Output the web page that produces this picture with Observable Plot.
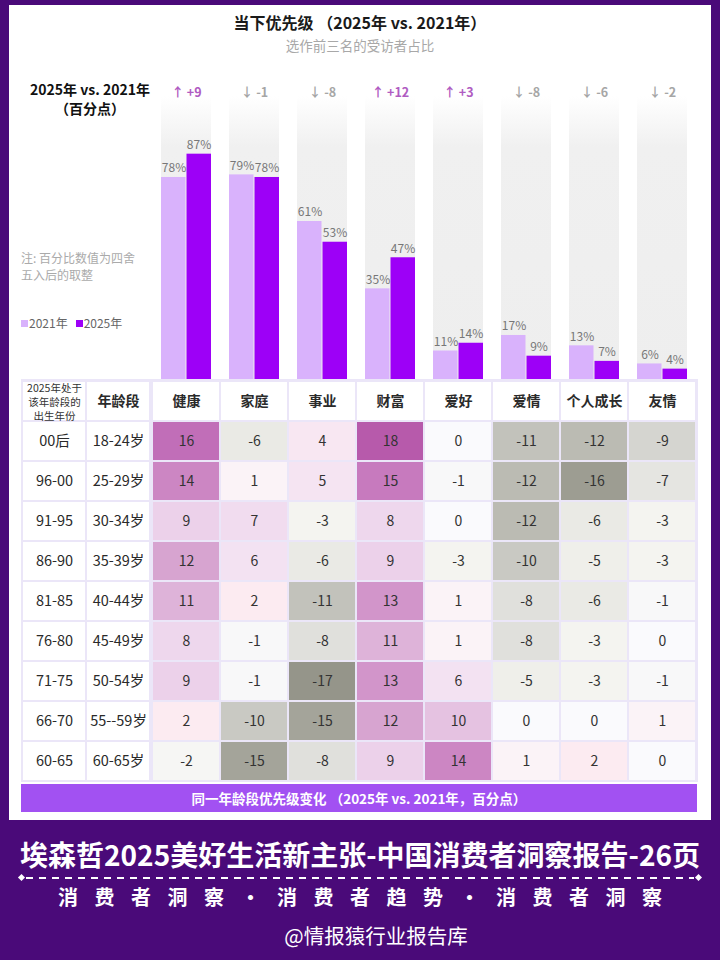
<!DOCTYPE html>
<html lang="zh-CN">
<head>
<meta charset="utf-8">
<script src="https://cdn.jsdelivr.net/npm/d3@7"></script>
<script src="https://cdn.jsdelivr.net/npm/@observablehq/plot@0.6"></script>
<style>
  body { margin: 0; background: #4a0a79; font-family: "Noto Sans CJK SC", "Noto Sans", sans-serif; }
  #page { position: relative; width: 720px; height: 960px; overflow: hidden; }
  #panel { position: absolute; left: 9px; top: 5px; width: 702px; height: 815px; background: #fff; }
  .abs { position: absolute; }
  #title { left: 0; top: 12px; width: 720px; text-align: center; font-size: 16px; font-weight: 700; line-height: 20px; color: #1a1a1a; }
  #subtitle { left: 0; top: 36px; width: 720px; text-align: center; font-size: 13.5px; line-height: 18px; color: #a8a8a8; }
  #unit { left: 20px; top: 80px; width: 140px; text-align: center; font-size: 14px; font-weight: 700; line-height: 19px; color: #111; }
  #note { left: 21px; top: 249px; font-size: 12px; line-height: 17px; color: #aaa; }
  #legend { left: 21px; top: 315px; font-size: 12px; line-height: 16px; color: #666; white-space: nowrap; }
  #legend .sw { display: inline-block; width: 7px; height: 7px; margin-right: 1px; vertical-align: 1px; }
  #legend .item { margin-right: 8px; }
  #bars { left: 0; top: 0; }
  #tblLeft { left: 0; top: 379px; }
  #tblRight { left: 150px; top: 379px; }
  #band { left: 21px; top: 784px; width: 676px; height: 28px; background: #a251f2; color: #fff; font-size: 13.5px; font-weight: 700; line-height: 28px; text-align: center; }
  #report { left: 0; top: 836px; width: 720px; text-align: center; color: #fff; font-size: 28px; font-weight: 700; line-height: 36px; }
  #rule { left: 26px; top: 877px; width: 668px; height: 2px;
          background-image: repeating-linear-gradient(to right, #fff 0 7px, transparent 7px 13px); }
  .diamond { width: 5px; height: 5px; background: #fff; transform: rotate(45deg); top: 875px; }
  #tags { left: 0; top: 883px; width: 720px; text-align: center; color: #fff; font-size: 20px; font-weight: 700; line-height: 28px; letter-spacing: 16.5px; text-indent: 16.5px; }
  #handle { left: 16px; top: 921px; width: 720px; text-align: center; color: #fff; font-size: 20.5px; line-height: 28px; }
</style>
</head>
<body>
<div id="page">
  <div id="panel"></div>
  <div class="abs" id="title">当下优先级 （2025年 vs. 2021年）</div>
  <div class="abs" id="subtitle">选作前三名的受访者占比</div>
  <div class="abs" id="unit">2025年 vs. 2021年<br>（百分点）</div>
  <div class="abs" id="note">注: 百分比数值为四舍<br>五入后的取整</div>
  <div class="abs" id="legend"></div>
  <div class="abs" id="bars"></div>
  <div class="abs" id="tblLeft"></div>
  <div class="abs" id="tblRight"></div>
  <div class="abs" id="band">同一年龄段优先级变化 （2025年 vs. 2021年，百分点）</div>
  <div class="abs" id="report">埃森哲2025美好生活新主张-中国消费者洞察报告-26页</div>
  <div class="abs diamond" style="left:19px"></div>
  <div class="abs" id="rule"></div>
  <div class="abs diamond" style="left:696px"></div>
  <div class="abs" id="tags">消费者洞察·消费者趋势·消费者洞察</div>
  <div class="abs" id="handle">@情报猿行业报告库</div>
</div>
<script>
// Priorities, share of respondents ranking each in their top three (%)
const categories = ["健康", "家庭", "事业", "财富", "爱好", "爱情", "个人成长", "友情"];
const share2021 = [78, 79, 61, 35, 11, 17, 13, 6];
const share2025 = [87, 78, 53, 47, 14, 9, 7, 4];
const seriesNames = ["2021年", "2025年"];

// Cohorts: birth years and the age band they occupy in 2025
const birthYears = ["00后", "96-00", "91-95", "86-90", "81-85", "76-80", "71-75", "66-70", "60-65"];
const ageGroups = ["18-24岁", "25-29岁", "30-34岁", "35-39岁", "40-44岁", "45-49岁", "50-54岁", "55--59岁", "60-65岁"];

// Change in priority within the same age band, 2025 vs. 2021 (percentage points)
const change00 = [16, -6, 4, 18, 0, -11, -12, -9];
const change96 = [14, 1, 5, 15, -1, -12, -16, -7];
const change91 = [9, 7, -3, 8, 0, -12, -6, -3];
const change86 = [12, 6, -6, 9, -3, -10, -5, -3];
const change81 = [11, 2, -11, 13, 1, -8, -6, -1];
const change76 = [8, -1, -8, 11, 1, -8, -3, 0];
const change71 = [9, -1, -17, 13, 6, -5, -3, -1];
const change66 = [2, -10, -15, 12, 10, 0, 0, 1];
const change60 = [-2, -15, -8, 9, 14, 1, 2, 0];
const changeRows = [change00, change96, change91, change86, change81, change76, change71, change66, change60];

// Table header labels
const cohortHeader = "2025年处于\n该年龄段的\n出生年份";
const ageHeader = "年龄段";

const font = "'Noto Sans CJK SC', 'Noto Sans', sans-serif";
const light = "#d9b2fc", dark = "#9d00f7";
const grid = "#ebe6f8";

// Legend
document.getElementById("legend").innerHTML = seriesNames
  .map((s, i) => `<span class="item"><span class="sw" style="background:${i ? dark : light}"></span>${s}</span>`)
  .join("");

// ---- Grouped bars ----
const barRows = categories.map((cat, i) => ({
  cat, v2021: share2021[i], v2025: share2025[i], delta: share2025[i] - share2021[i]
}));

const bars = Plot.plot({
  width: 720, height: 379,
  marginLeft: 150, marginRight: 22, marginTop: 96, marginBottom: 0,
  style: { fontFamily: font, background: "transparent", overflow: "visible" },
  x: { domain: categories, paddingInner: 0.27, paddingOuter: 0.135, axis: null },
  y: { domain: [0, 100], range: [379, 120], axis: null },
  marks: [
    Plot.cell(categories, { x: d => d, fill: "url(#colFade)" }),
    Plot.barY(barRows, { x: "cat", y: "v2021", fill: light, insetRight: 25.5 }),
    Plot.barY(barRows, { x: "cat", y: "v2025", fill: dark, insetLeft: 25.5 }),
    Plot.text(barRows, { x: "cat", y: "v2021", text: d => d.v2021 + "%", dx: -12.5, dy: -9, fill: "#777", fontSize: 12 }),
    Plot.text(barRows, { x: "cat", y: "v2025", text: d => d.v2025 + "%", dx: 12.5, dy: -9, fill: "#777", fontSize: 12 }),
    Plot.text(barRows.filter(d => d.delta > 0), {
      x: "cat", frameAnchor: "top", lineAnchor: "middle", dy: -4,
      text: d => "↑ +" + d.delta, fill: "#b05cc2", fontSize: 12.5, fontWeight: 700
    }),
    Plot.text(barRows.filter(d => d.delta <= 0), {
      x: "cat", frameAnchor: "top", lineAnchor: "middle", dy: -4,
      text: d => "↓ " + d.delta, fill: "#a6a6a6", fontSize: 12.5, fontWeight: 700
    })
  ]
});
// soft fade at the top of each column backdrop
const grad = d3.select(bars).insert("defs", ":first-child")
  .append("linearGradient").attr("id", "colFade").attr("x1", 0).attr("y1", 0).attr("x2", 0).attr("y2", 1);
grad.append("stop").attr("offset", 0).attr("stop-color", "#ffffff");
grad.append("stop").attr("offset", 0.18).attr("stop-color", "#f0f0f0");
grad.append("stop").attr("offset", 1).attr("stop-color", "#eeeeee");
document.getElementById("bars").append(bars);

// ---- Heat table ----
const tableRows = ["header", ...birthYears];
const tableY = { domain: tableRows, range: [0, 403], padding: 0, axis: null };
const leftCols = ["cohort", "age"];

const leftCells = tableRows.flatMap(r => leftCols.map(c => ({ row: r, col: c })));
const left = Plot.plot({
  width: 150, height: 403,
  marginLeft: 21, marginRight: 0, marginTop: 0, marginBottom: 0,
  style: { fontFamily: font, background: "transparent", color: "#2a2a2a" },
  x: { domain: leftCols, padding: 0, axis: null },
  y: tableY,
  marks: [
    Plot.frame({ fill: grid, stroke: grid }),
    Plot.cell(leftCells, { x: "col", y: "row", fill: "#fff", inset: 1 }),
    Plot.text([cohortHeader], { x: () => "cohort", y: () => "header", text: d => d, fontSize: 10.5, lineHeight: 1.32, fill: "#333" }),
    Plot.text([ageHeader], { x: () => "age", y: () => "header", text: d => d, fontSize: 14, fontWeight: 700 }),
    Plot.text(birthYears, { x: () => "cohort", y: d => d, text: d => d, fontSize: 14.5 }),
    Plot.text(ageGroups, { x: () => "age", y: (d, i) => birthYears[i], text: d => d, fontSize: 14.5 })
  ]
});
document.getElementById("tblLeft").append(left);

const heatCells = birthYears.flatMap((row, i) => categories.map((cat, j) => ({ row, cat, value: changeRows[i][j] })));
const right = Plot.plot({
  width: 548, height: 403,
  marginLeft: 0, marginRight: 0, marginTop: 0, marginBottom: 0,
  style: { fontFamily: font, background: "transparent", color: "#2a2a2a" },
  x: { domain: categories, padding: 0, axis: null },
  y: tableY,
  color: {
    type: "linear",
    domain: [-17, -12, -10, -8, -5, -3, 0, 2, 6, 9, 12, 14, 16, 18],
    range: ["#95958a", "#bbbbb3", "#c9c9c3", "#e0e0dc", "#efefea", "#f4f4f0", "#fafafd",
            "#fcebf1", "#f3e2f2", "#ecd1ea", "#d7a4d0", "#cc86c3", "#c16eb8", "#b75aab"],
    interpolate: "rgb"
  },
  marks: [
    Plot.frame({ fill: grid, stroke: grid }),
    Plot.cell(categories, { x: d => d, y: () => "header", fill: "#fff", inset: 1 }),
    Plot.cell(heatCells, { x: "cat", y: "row", fill: "value", inset: 1 }),
    Plot.text(categories, { x: d => d, y: () => "header", text: d => d, fontSize: 14, fontWeight: 700 }),
    Plot.text(heatCells, { x: "cat", y: "row", text: d => String(d.value), fontSize: 14, fill: "#333" })
  ]
});
document.getElementById("tblRight").append(right);
</script>
</body>
</html>
